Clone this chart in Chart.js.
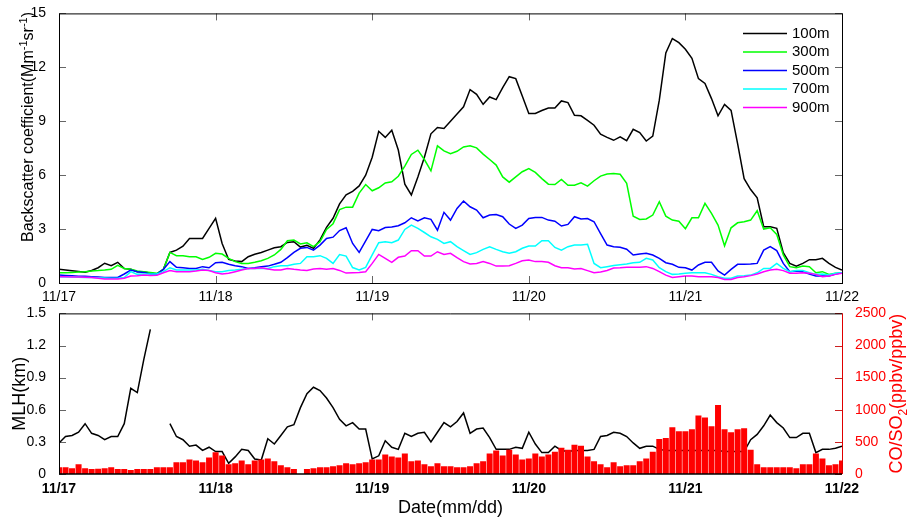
<!DOCTYPE html>
<html>
<head>
<meta charset="utf-8">
<script src="https://cdn.jsdelivr.net/npm/chart.js@4/dist/chart.umd.min.js"></script>
<style>
  body { margin: 0; background: #fff; }
  #wrap { position: relative; width: 910px; height: 519px; }
  canvas { position: absolute; left: 0; }
  #topChart { top: 0; }
  #botChart { top: 300px; }
</style>
</head>
<body>
<div id="wrap">
  <canvas id="topChart" width="910" height="310"></canvas>
  <canvas id="botChart" width="910" height="219"></canvas>
</div>
<script>
// hourly data, hour 0 = 11/17 00:00, hour 120 = 11/22 00:00
const dayLabels = ['11/17', '11/18', '11/19', '11/20', '11/21', '11/22']
const hours = Array.from({ length: 121 }, (_, i) => i)

// backscatter coefficient (Mm-1 sr-1)
const bs100 = [0.76,0.72,0.68,0.64,0.6,0.7,0.85,1.1,0.96,1.15,0.8,0.76,0.63,0.63,0.54,0.5,0.76,
  1.7,1.83,2.05,2.48,2.48,2.48,3.04,3.6,2.2,1.31,1.22,1.19,1.46,1.6,1.7,1.83,1.96,2.02,2.26,2.3,2.0,2.1,1.93,2.4,3.1,3.6,4.4,4.9,5.1,
  5.4,6.0,7.0,8.44,8.1,8.5,7.4,5.5,4.9,5.9,7.0,8.3,8.65,8.6,9.0,9.4,9.8,10.76,10.5,9.94,10.35,10.2,10.87,11.48,11.37,10.4,
  9.43,9.43,9.6,9.74,9.74,10.13,10.04,9.33,9.3,9.05,8.78,8.28,8.1,7.94,8.13,7.92,8.55,8.37,7.9,8.17,10.17,12.8,13.6,13.37,13.0,12.5,
  11.37,11.1,10.26,9.3,9.94,9.6,7.76,5.8,5.2,4.74,3.13,3.13,3.04,1.69,1.09,0.94,1.09,1.3,1.3,1.37,1.09,0.87,0.72]
const bs300 = [0.57,0.57,0.59,0.61,0.63,0.67,0.69,0.72,0.76,0.98,0.81,0.76,0.67,0.63,0.59,0.54,0.76,
  1.7,1.52,1.52,1.46,1.46,1.31,1.43,1.65,1.61,1.37,1.19,1.09,1.09,1.15,1.24,1.37,1.56,1.87,2.35,2.39,2.17,2.24,2.02,2.3,2.98,3.3,4.08,4.22,4.22,
  5.0,5.48,5.13,5.3,5.57,5.63,5.94,6.5,7.15,7.39,6.87,6.24,7.63,7.35,7.2,7.33,7.57,7.63,7.52,7.17,6.87,6.56,5.9,5.61,5.9,6.19,
  6.37,6.15,5.81,5.5,5.48,5.76,5.44,5.44,5.57,5.39,5.69,5.95,6.06,6.09,6.05,5.55,3.72,3.54,3.56,3.78,4.52,3.72,3.5,3.44,3.02,3.63,
  3.63,4.43,3.87,3.22,2.07,3.07,3.35,3.41,3.5,4.02,3.0,3.07,2.7,1.56,0.91,0.85,0.94,0.91,0.57,0.63,0.48,0.54,0.54]
const bs500 = [0.44,0.42,0.4,0.38,0.37,0.35,0.33,0.31,0.31,0.31,0.5,0.72,0.63,0.59,0.5,0.5,0.76,
  1.19,0.87,0.85,0.81,0.81,0.91,0.85,1.13,1.15,1.04,0.96,0.91,0.81,0.85,0.91,0.94,1.04,1.15,1.41,1.7,1.93,1.98,1.83,2.11,2.48,2.55,2.92,3.07,2.2,
  1.7,2.35,2.98,2.91,3.09,3.11,3.19,3.35,3.63,3.46,3.63,3.54,2.94,3.93,3.5,4.15,4.56,4.24,4.06,3.63,3.78,3.81,3.69,3.28,3.04,3.22,
  3.59,3.65,3.65,3.5,3.44,3.17,3.26,3.69,3.56,3.59,3.41,2.75,2.11,2.02,1.99,1.88,1.56,1.61,1.65,1.56,1.37,1.13,1.04,0.87,0.85,0.72,
  1.0,1.15,1.15,0.67,0.44,0.76,1.04,1.04,1.06,1.09,1.83,2.02,1.8,1.09,0.63,0.67,0.63,0.5,0.39,0.39,0.39,0.5,0.57]
const bs700 = [0.35,0.34,0.33,0.32,0.31,0.3,0.29,0.28,0.27,0.26,0.3,0.63,0.48,0.5,0.5,0.5,0.63,
  0.85,0.72,0.72,0.72,0.72,0.76,0.69,0.63,0.63,0.69,0.72,0.76,0.81,0.8,0.81,0.81,0.91,0.96,0.96,1.04,1.09,1.46,1.46,1.52,1.37,1.09,1.58,1.5,0.86,
  0.72,0.87,1.56,2.24,2.3,2.24,2.39,2.98,3.22,3.04,2.81,2.57,2.43,2.2,2.3,2.02,1.8,1.59,1.69,1.87,2.02,1.87,1.74,1.65,1.74,1.93,
  2.06,2.06,2.35,2.35,1.98,1.83,2.02,2.11,2.11,2.15,1.09,0.85,0.91,0.97,1.02,1.06,1.13,1.15,1.37,1.28,0.85,0.63,0.48,0.5,0.54,0.57,
  0.57,0.57,0.48,0.35,0.26,0.26,0.39,0.41,0.44,0.57,0.81,0.81,1.09,0.81,0.63,0.69,0.69,0.57,0.48,0.5,0.44,0.54,0.57]
const bs900 = [0.35,0.35,0.34,0.33,0.32,0.3,0.26,0.22,0.22,0.22,0.26,0.39,0.41,0.44,0.42,0.43,0.57,
  0.69,0.63,0.63,0.63,0.67,0.72,0.69,0.57,0.5,0.54,0.63,0.72,0.8,0.81,0.85,0.78,0.72,0.72,0.81,0.76,0.72,0.69,0.78,0.81,0.76,0.8,0.7,0.55,0.57,
  0.59,0.63,1.09,1.59,1.37,1.15,1.43,1.5,1.8,1.8,1.5,1.5,1.74,1.59,1.65,1.41,1.19,1.06,1.09,1.19,1.09,0.94,0.94,0.96,1.09,1.24,
  1.28,1.19,1.19,1.15,0.96,0.85,0.85,0.78,0.81,0.69,0.57,0.61,0.7,0.83,0.85,0.88,0.87,0.87,0.91,0.81,0.63,0.44,0.31,0.35,0.39,0.39,
  0.35,0.35,0.35,0.31,0.2,0.2,0.31,0.35,0.41,0.5,0.63,0.72,0.76,0.69,0.54,0.54,0.57,0.54,0.48,0.35,0.39,0.48,0.54]

// mixing layer height (km), null = no retrieval
const mlh = [0.29,0.35,0.36,0.39,0.47,0.38,0.36,0.32,0.35,0.35,0.47,0.8,0.76,1.07,1.35,null,null,
  0.47,0.35,0.32,0.26,0.27,0.22,0.25,0.21,0.21,0.1,0.16,0.23,0.22,0.14,0.13,0.33,0.28,0.36,0.44,0.46,0.62,0.75,0.81,0.78,0.71,0.62,0.51,0.45,0.48,
  0.42,0.42,0.14,0.17,0.31,0.25,0.23,0.38,0.35,0.38,0.39,0.3,0.39,0.48,0.44,0.49,0.57,0.38,0.42,0.43,0.34,0.23,0.23,0.23,0.25,0.24,
  0.39,0.28,0.2,0.2,0.26,0.22,0.21,0.22,0.22,0.22,0.23,0.35,0.36,0.39,0.38,0.35,0.29,0.24,0.26,0.26,0.23,0.22,0.22,0.22,0.22,0.22,
  0.22,0.22,0.22,0.22,0.21,0.21,0.21,0.21,0.32,0.37,0.45,0.55,0.48,0.43,0.34,0.34,0.38,0.38,0.2,0.23,0.23,0.24,0.26]

// CO/SO2 ratio (ppbv/ppbv)
const coso2 = [106,106,91,152,91,76,81,91,106,76,76,61,76,76,76,106,106,106,182,182,227,212,182,258,338,288,152,167,212,152,212,
  227,242,197,136,106,76,0,76,91,106,106,121,136,167,152,167,182,227,227,303,273,258,318,197,212,152,121,167,121,121,
  106,106,121,167,197,318,364,288,379,303,227,242,318,273,303,348,409,379,455,439,273,197,152,106,182,121,136,136,197,242,
  348,545,561,727,667,667,697,909,879,742,1076,697,651,697,712,379,152,106,106,106,106,106,91,152,152,318,242,136,152,212]

const FONT = "'Liberation Sans', Arial, Helvetica, sans-serif"
Chart.defaults.font.family = FONT
Chart.defaults.font.size = 14
Chart.defaults.color = '#000'

const toXY = arr => arr.map((v, i) => ({ x: hours[i], y: v }))
const dayTick = v => dayLabels[Math.round(v / 24)]

// text rotated -90deg, centred on y, baseline at x
function vText(ctx, x, y, parts, color) {
    ctx.save()
    ctx.translate(x, y)
    ctx.rotate(-Math.PI / 2)
    ctx.fillStyle = color
    ctx.textBaseline = 'alphabetic'
    ctx.textAlign = 'left'
    let total = 0
    parts.forEach(p => {
        ctx.font = p.size + 'px ' + FONT
        p.w = ctx.measureText(p.t).width
        total += p.w
    })
    let cx = -total / 2
    parts.forEach(p => {
        ctx.font = p.size + 'px ' + FONT
        ctx.fillText(p.t, cx, p.dy || 0)
        cx += p.w
    })
    ctx.restore()
}

const topDecor = {
    id: 'topDecor',
    afterDatasetsDraw(chart) {
        const { ctx, chartArea: a, scales: { x, y } } = chart
        ctx.save()
        ctx.strokeStyle = '#666'
        ctx.lineWidth = 1
        ctx.beginPath()
        y.ticks.forEach(t => {
            const py = Math.round(y.getPixelForValue(t.value)) + 0.5
            ctx.moveTo(a.left, py); ctx.lineTo(a.left + 7, py)
            ctx.moveTo(a.right, py); ctx.lineTo(a.right - 7, py)
        })
        x.ticks.forEach(t => {
            const px = Math.round(x.getPixelForValue(t.value)) + 0.5
            ctx.moveTo(px, a.top); ctx.lineTo(px, a.top + 7)
            ctx.moveTo(px, a.bottom); ctx.lineTo(px, a.bottom - 7)
        })
        ctx.stroke()
        ctx.strokeStyle = '#000'
        ctx.strokeRect(a.left + 0.5, a.top + 0.5, a.right - a.left, a.bottom - a.top)

        // legend
        ctx.font = '15px ' + FONT
        ctx.textBaseline = 'middle'
        ctx.textAlign = 'left'
        chart.data.datasets.forEach((ds, i) => {
            const ly = a.top + 20 + i * 18.5
            ctx.strokeStyle = ds.borderColor
            ctx.lineWidth = 1.5
            ctx.beginPath(); ctx.moveTo(a.right - 99, ly); ctx.lineTo(a.right - 55, ly); ctx.stroke()
            ctx.fillStyle = '#000'
            ctx.fillText(ds.label, a.right - 50, ly)
        })
        ctx.restore()

        vText(ctx, 33, 127, [
            { t: 'Backscatter coefficient(Mm', size: 16 },
            { t: '-1', size: 11, dy: -6 },
            { t: 'sr', size: 16 },
            { t: '-1', size: 11, dy: -6 },
            { t: ')', size: 16 }
        ], '#000')
    }
}

const botDecor = {
    id: 'botDecor',
    beforeDatasetsDraw(chart) {
        const { ctx, chartArea: a, scales: { x, y, y2 } } = chart
        ctx.save()
        ctx.lineWidth = 1
        ctx.strokeStyle = '#666'
        ctx.beginPath()
        y.ticks.forEach(t => {
            const py = Math.round(y.getPixelForValue(t.value)) + 0.5
            ctx.moveTo(a.left, py); ctx.lineTo(a.left + 7, py)
        })
        x.ticks.forEach(t => {
            const px = Math.round(x.getPixelForValue(t.value)) + 0.5
            ctx.moveTo(px, a.top); ctx.lineTo(px, a.top + 7)
            ctx.moveTo(px, a.bottom); ctx.lineTo(px, a.bottom - 7)
        })
        ctx.stroke()
        ctx.strokeStyle = '#cc2020'
        ctx.beginPath()
        y2.ticks.forEach(t => {
            const py = Math.round(y2.getPixelForValue(t.value)) + 0.5
            ctx.moveTo(a.right, py); ctx.lineTo(a.right - 7, py)
        })
        ctx.stroke()
        ctx.restore()
    },
    afterDatasetsDraw(chart) {
        const { ctx, chartArea: a } = chart
        ctx.save()
        ctx.strokeStyle = '#000'
        ctx.lineWidth = 1
        ctx.beginPath()
        ctx.moveTo(a.right, a.top + 0.5); ctx.lineTo(a.left + 0.5, a.top + 0.5)
        ctx.lineTo(a.left + 0.5, a.bottom)
        ctx.stroke()
        ctx.lineWidth = 1.5
        ctx.beginPath(); ctx.moveTo(a.left, a.bottom); ctx.lineTo(a.right, a.bottom); ctx.stroke()
        ctx.strokeStyle = '#e00000'
        ctx.lineWidth = 1
        ctx.beginPath(); ctx.moveTo(a.right + 0.5, a.top); ctx.lineTo(a.right + 0.5, a.bottom); ctx.stroke()

        ctx.fillStyle = '#000'
        ctx.font = '18px ' + FONT
        ctx.textAlign = 'center'
        ctx.textBaseline = 'alphabetic'
        ctx.fillText('Date(mm/dd)', (a.left + a.right) / 2, 213)
        ctx.restore()

        vText(ctx, 25, (a.top + a.bottom) / 2, [{ t: 'MLH(km)', size: 18 }], '#000')
        vText(ctx, 902, (a.top + a.bottom) / 2, [
            { t: 'CO/SO', size: 18 },
            { t: '2', size: 12, dy: 5 },
            { t: '(ppbv/ppbv)', size: 18 }
        ], '#ff0000')
    }
}

const topChart = new Chart(document.getElementById('topChart'), {
    type: 'line',
    data: {
        datasets: [
            { label: '100m', data: toXY(bs100), borderColor: '#000000', order: 5 },
            { label: '300m', data: toXY(bs300), borderColor: '#00ff00', order: 4 },
            { label: '500m', data: toXY(bs500), borderColor: '#0000ff', order: 3 },
            { label: '700m', data: toXY(bs700), borderColor: '#00ffff', order: 2 },
            { label: '900m', data: toXY(bs900), borderColor: '#ff00ff', order: 1 }
        ]
    },
    options: {
        responsive: false,
        animation: false,
        layout: { padding: { left: 0, right: 68, top: 12, bottom: 0 } },
        elements: {
            point: { radius: 0 },
            line: { borderWidth: 1.5, tension: 0 }
        },
        plugins: {
            legend: { display: false },
            tooltip: { enabled: false }
        },
        scales: {
            x: {
                type: 'linear', min: 0, max: 120,
                grid: { display: false }, border: { display: false },
                ticks: { stepSize: 24, autoSkip: false, maxRotation: 0, padding: -2, callback: dayTick },
                afterFit: s => { s.height = 27 }
            },
            y: {
                min: 0, max: 15,
                grid: { display: false }, border: { display: false },
                ticks: { stepSize: 3, padding: 5 },
                afterFit: s => { s.width = 59 }
            }
        }
    },
    plugins: [topDecor]
})

const botChart = new Chart(document.getElementById('botChart'), {
    type: 'bar',
    data: {
        datasets: [
            {
                type: 'bar', label: 'CO/SO2', data: toXY(coso2), yAxisID: 'y2',
                backgroundColor: '#ff0000', barPercentage: 0.92, categoryPercentage: 1, order: 0
            },
            {
                type: 'line', label: 'MLH', data: toXY(mlh), yAxisID: 'y',
                borderColor: '#000000', borderWidth: 1.5, pointRadius: 0, tension: 0, spanGaps: false, order: 1
            }
        ]
    },
    options: {
        responsive: false,
        animation: false,
        layout: { padding: { left: 0, right: 0, top: 9, bottom: 0 } },
        plugins: {
            legend: { display: false },
            tooltip: { enabled: false }
        },
        scales: {
            x: {
                type: 'linear', min: 0, max: 120, offset: false,
                grid: { display: false, offset: false }, border: { display: false },
                ticks: { stepSize: 24, autoSkip: false, maxRotation: 0, padding: -1, font: { weight: 'bold' }, callback: dayTick },
                afterFit: s => { s.height = 45 }
            },
            y: {
                position: 'left', min: 0, max: 1.5,
                grid: { display: false }, border: { display: false },
                ticks: { stepSize: 0.3, padding: 5, callback: v => v === 0 ? '0' : v.toFixed(1) },
                afterFit: s => { s.width = 59 }
            },
            y2: {
                position: 'right', min: 0, max: 2500,
                grid: { display: false }, border: { display: false },
                ticks: { stepSize: 500, padding: 5, color: '#ff0000', callback: v => String(v) },
                afterFit: s => { s.width = 68 }
            }
        }
    },
    plugins: [botDecor]
})
</script>
</body>
</html>
